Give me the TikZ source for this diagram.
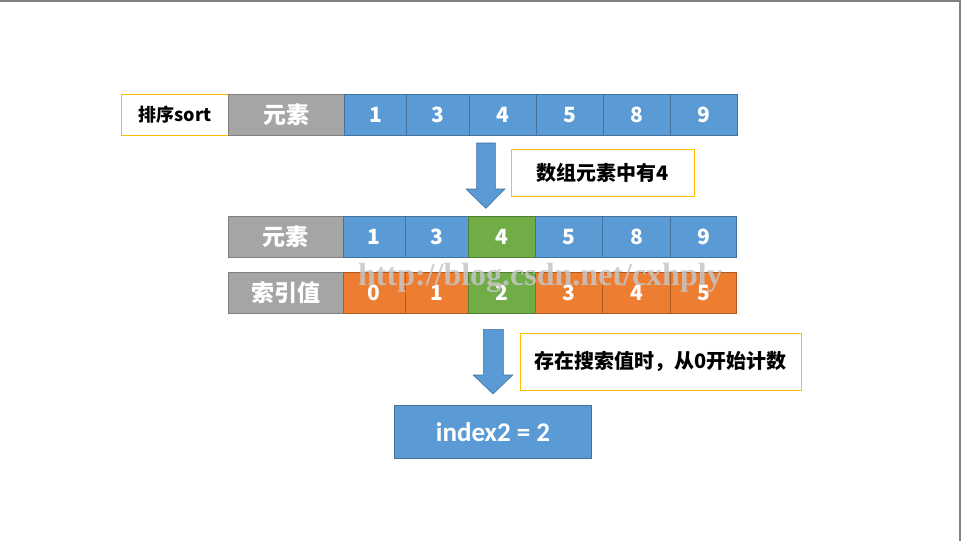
\documentclass[tikz,border=0pt]{standalone}
\usepackage{fontspec}
\setmainfont{Carlito}[BoldFont={Carlito Bold}]
\newfontfamily\cjk{Noto Sans CJK SC}
\newfontfamily\wmfont{Liberation Serif}
\definecolor{cblue}{HTML}{5B9BD5}
\definecolor{cblueb}{HTML}{41719C}
\definecolor{cgray}{HTML}{A5A5A5}
\definecolor{cgrayb}{HTML}{7F7F7F}
\definecolor{corange}{HTML}{ED7D31}
\definecolor{corangeb}{HTML}{AE5A21}
\definecolor{cgreen}{HTML}{70AD47}
\definecolor{cgreenb}{HTML}{507E32}
\definecolor{cyellow}{HTML}{FFC000}
\definecolor{frame}{HTML}{808080}
\begin{document}
\begin{tikzpicture}[x=1pt,y=-1pt,
  cell/.style={draw, line width=0.8pt, inner sep=0pt, text=white,
    font=\cjk\bfseries\fontsize{21}{21}\selectfont},
  bluec/.style={cell, fill=cblue, draw=cblueb},
  orangec/.style={cell, fill=corange, draw=corangeb},
  greenc/.style={cell, fill=cgreen, draw=cgreenb},
  grayc/.style={cell, fill=cgray, draw=cgrayb, font=\cjk\bfseries\fontsize{23}{23}\selectfont},
  notebox/.style={draw=cyellow, line width=0.8pt, fill=white, inner sep=0pt,
    font=\cjk\bfseries\fontsize{20}{20}\selectfont, text=black},
  blockarrow/.style={fill=cblue, draw=cblueb, line width=0.6pt},
  watermark/.style={font=\wmfont\bfseries\fontsize{32}{32}\selectfont, text=gray!45, opacity=0.85, inner sep=0pt}
]
\useasboundingbox (0,0) rectangle (961,541);
\fill[white] (0,0) rectangle (961,541);
\draw[frame, line width=1.5pt] (0,0.75) -- (960.2,0.75) -- (960.2,541);

% row 1
\node[notebox, minimum width=107.4pt, minimum height=41pt, font=\cjk\bfseries\fontsize{18}{18}\selectfont] (sortbox) at (175,114.8) {排序sort};
\node[grayc, minimum width=116pt, minimum height=41pt] (r1h) at (286.7,114.8) {元素};
\node[bluec, minimum width=61.6pt, minimum height=41pt] (r1a) at (375.5,114.8) {1};
\node[bluec, minimum width=63.2pt, minimum height=41pt] (r1b) at (437.9,114.8) {3};
\node[bluec, minimum width=67.2pt, minimum height=41pt] (r1c) at (503.1,114.8) {4};
\node[bluec, minimum width=66.6pt, minimum height=41pt] (r1d) at (570,114.8) {5};
\node[bluec, minimum width=67.4pt, minimum height=41pt] (r1e) at (637,114.8) {8};
\node[bluec, minimum width=66.6pt, minimum height=41pt] (r1f) at (704,114.8) {9};

% arrow 1
\draw[blockarrow] (476.7,143) -- (495.3,143) -- (495.3,189) -- (505,189) -- (485.8,208.3) -- (466,189) -- (476.7,189) -- cycle;
\node[notebox, minimum width=182.6pt, minimum height=46.7pt] (note1) at (603,172.7) {数组元素中有4};

% row 2
\node[grayc, minimum width=115pt, minimum height=41.3pt] (r2h) at (285.8,236.7) {元素};
\node[bluec, minimum width=61.7pt, minimum height=41.3pt] (r2a) at (374.2,236.7) {1};
\node[bluec, minimum width=63pt, minimum height=41.3pt] (r2b) at (436.5,236.7) {3};
\node[greenc, minimum width=67pt, minimum height=41.3pt] (r2c) at (501.5,236.7) {4};
\node[bluec, minimum width=67.7pt, minimum height=41.3pt] (r2d) at (568.9,236.7) {5};
\node[bluec, minimum width=67.3pt, minimum height=41.3pt] (r2e) at (636.4,236.7) {8};
\node[bluec, minimum width=66.7pt, minimum height=41.3pt] (r2f) at (703.4,236.7) {9};

% row 3
\node[grayc, minimum width=115pt, minimum height=40.3pt] (r3h) at (285.8,292.9) {索引值};
\node[orangec, minimum width=61.7pt, minimum height=40.3pt] (r3a) at (374.2,292.9) {0};
\node[orangec, minimum width=63pt, minimum height=40.3pt] (r3b) at (436.5,292.9) {1};
\node[greenc, minimum width=67pt, minimum height=40.3pt] (r3c) at (501.5,292.9) {2};
\node[orangec, minimum width=67.7pt, minimum height=40.3pt] (r3d) at (568.9,292.9) {3};
\node[orangec, minimum width=67.3pt, minimum height=40.3pt] (r3e) at (636.4,292.9) {4};
\node[orangec, minimum width=66.7pt, minimum height=40.3pt] (r3f) at (703.4,292.9) {5};

% watermark
\node[watermark, anchor=base west] (wm) at (358,285) {http://blog.csdn.net/cxhply};

% arrow 2
\draw[blockarrow] (483.3,329.3) -- (503.3,329.3) -- (503.3,375) -- (512.7,375) -- (493,394) -- (473.3,375) -- (483.3,375) -- cycle;
\node[notebox, minimum width=281.7pt, minimum height=56.7pt] (note2) at (660.9,361.7) {存在搜索值时，从0开始计数};

% result
\node[bluec, minimum width=197.4pt, minimum height=53.3pt, font=\bfseries\fontsize{27}{27}\selectfont] (result) at (493,431.7) {index2 = 2};
\end{tikzpicture}
\end{document}
